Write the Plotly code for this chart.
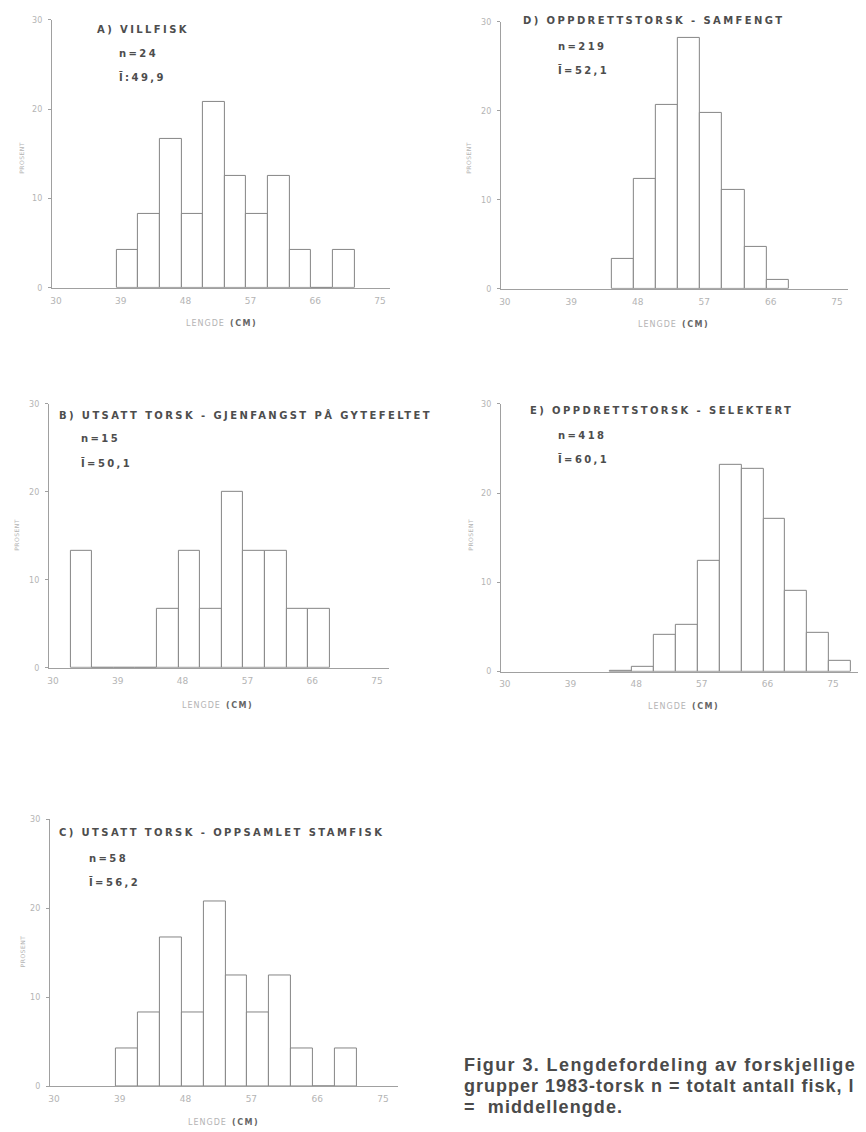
import plotly.graph_objects as go

# page body has an 8px default margin; the figure is sized/offset to fit the 866x1132 window
OFF = 8
W, H = 866 - OFF, 1132 - OFF

# ---------------- data ----------------
x_ticks = [30, 39, 48, 57, 66, 75]
y_ticks = [0, 10, 20, 30]

A_bins = [39, 42, 45, 48, 51, 54, 57, 60, 63, 66, 69]
A_pct = [4.2, 8.3, 16.7, 8.3, 20.8, 12.5, 8.3, 12.5, 4.2, 0, 4.2]

B_bins = [33, 36, 39, 42, 45, 48, 51, 54, 57, 60, 63, 66]
B_pct = [13.3, 0, 0, 0, 6.7, 13.3, 6.7, 20.0, 13.3, 13.3, 6.7, 6.7]

C_bins = [39, 42, 45, 48, 51, 54, 57, 60, 63, 66, 69]
C_pct = [4.2, 8.3, 16.7, 8.3, 20.8, 12.5, 8.3, 12.5, 4.2, 0, 4.2]

D_bins = [45, 48, 51, 54, 57, 60, 63, 66]
D_pct = [3.3, 12.4, 20.7, 28.2, 19.8, 11.1, 4.7, 1.0]

E_bins = [45, 48, 51, 54, 57, 60, 63, 66, 69, 72, 75]
E_pct = [0.15, 0.5, 4.1, 5.2, 12.4, 23.2, 22.7, 17.1, 9.1, 4.3, 1.2]

titles = {
    "A": "A) VILLFISK",
    "B": "B) UTSATT TORSK - GJENFANGST PÅ GYTEFELTET",
    "C": "C) UTSATT TORSK - OPPSAMLET STAMFISK",
    "D": "D) OPPDRETTSTORSK - SAMFENGT",
    "E": "E) OPPDRETTSTORSK - SELEKTERT",
}
n_text = {"A": "n=24", "B": "n=15", "C": "n=58", "D": "n=219", "E": "n=418"}
l_text = {"A": "Ī:49,9", "B": "Ī=50,1", "C": "Ī=56,2", "D": "Ī=52,1", "E": "Ī=60,1"}

caption_lines = ["Figur 3. Lengdefordeling av forskjellige",
                 "grupper 1983-torsk n = totalt antall fisk, l",
                 "=  middellengde."]

# ---------------- layout geometry (window pixels) ----------------
geom = {
    "A": dict(x0=50, ppc=7.22, xmax=77.0, y0=286, y30=16,
              title=(93, 26), n=(115, 50), l=(115, 74), xt=(220, 322), yt=(20, 155)),
    "D": dict(x0=500, ppc=7.40, xmax=77.0, y0=287, y30=18,
              title=(520, 17), n=(555, 43), l=(555, 66), xt=(673, 323), yt=(468, 155)),
    "B": dict(x0=47, ppc=7.22, xmax=77.2, y0=669, y30=403,
              title=(55, 414), n=(77, 438), l=(77, 463), xt=(216, 707), yt=(15, 535)),
    "E": dict(x0=500, ppc=7.31, xmax=79.0, y0=673, y30=403,
              title=(527, 410), n=(555, 435), l=(555, 459), xt=(683, 708), yt=(470, 535)),
    "C": dict(x0=48, ppc=7.33, xmax=77.6, y0=1091, y30=822,
              title=(55, 835), n=(85, 861), l=(85, 885), xt=(222, 1127), yt=(20, 955)),
}
data = {"A": (A_bins, A_pct), "B": (B_bins, B_pct), "C": (C_bins, C_pct),
        "D": (D_bins, D_pct), "E": (E_bins, E_pct)}

fig = go.Figure()
annotations = []
layout_axes = {}

BAR_LINE = "#858585"
AXIS_COL = "#a0a0a0"
TXT_DARK = "#4d4d4d"
TXT_LIGHT = "#b4b4b4"
FONT = "DejaVu Sans"


def px(x):
    return (x - OFF) / W


def py(y):
    return 1 - (y - OFF) / H


def spaced(s, ls):
    return f'<span style="letter-spacing:{ls}px">{s}</span>'


for i, key in enumerate(["A", "D", "B", "E", "C"], start=1):
    g = geom[key]
    bins, pct = data[key]
    xa = "x" if i == 1 else f"x{i}"
    ya = "y" if i == 1 else f"y{i}"
    fig.add_trace(go.Bar(
        x=[b + 1.5 for b in bins], y=pct, width=3,
        marker=dict(color="white", line=dict(color=BAR_LINE, width=1)),
        xaxis=xa, yaxis=ya, showlegend=False, hoverinfo="skip"))

    x1 = min(g["x0"] + (g["xmax"] - 30) * g["ppc"], 866)
    layout_axes["xaxis" if i == 1 else f"xaxis{i}"] = dict(
        domain=[px(g["x0"]), px(x1)], range=[30, 30 + (x1 - g["x0"]) / g["ppc"]], anchor=ya,
        tickvals=x_ticks, ticktext=[str(t) for t in x_ticks],
        showline=True, linecolor=AXIS_COL, linewidth=1, showgrid=False, zeroline=False,
        ticks="", ticklabelstandoff=4, ticklabelshift=4,
        tickfont=dict(family=FONT, size=9, color=TXT_LIGHT), fixedrange=True)
    layout_axes["yaxis" if i == 1 else f"yaxis{i}"] = dict(
        domain=[py(g["y0"]), py(g["y30"])], range=[0, 30], anchor=xa,
        tickvals=y_ticks, showline=True, linecolor=AXIS_COL, linewidth=1,
        showgrid=False, zeroline=False, ticks="outside", ticklen=3, tickcolor=AXIS_COL,
        ticklabelstandoff=4,
        tickfont=dict(family=FONT, size=8, color=TXT_LIGHT), fixedrange=True)

    for (tx, ty), txt in [(g["title"], titles[key]), (g["n"], n_text[key]), (g["l"], l_text[key])]:
        annotations.append(dict(x=px(tx), y=py(ty), xref="paper", yref="paper",
                                xanchor="left", yanchor="middle", showarrow=False,
                                text=spaced(f"<b>{txt}</b>", 2.4),
                                font=dict(family=FONT, size=10, color=TXT_DARK)))
    xtx, xty = g["xt"]
    annotations.append(dict(x=px(xtx), y=py(xty), xref="paper", yref="paper",
                            xanchor="center", yanchor="middle", showarrow=False,
                            text=spaced("LENGDE", 1) + "  " + spaced('<b><span style="fill:#666">(CM)</span></b>', 1.5),
                            font=dict(family=FONT, size=8, color=TXT_LIGHT)))
    ytx, yty = g["yt"]
    annotations.append(dict(x=px(ytx), y=py(yty), xref="paper", yref="paper",
                            xanchor="center", yanchor="middle", showarrow=False,
                            textangle=-90, text=spaced("PROSENT", 0.5),
                            font=dict(family=FONT, size=6, color=TXT_LIGHT)))

cap_y = [1069, 1091, 1112]
cap_ls = [1.4, 1.0, 1.1]
for line, yy, ls in zip(caption_lines, cap_y, cap_ls):
    annotations.append(dict(x=px(461), y=py(yy), xref="paper", yref="paper",
                            xanchor="left", yanchor="middle", align="left", showarrow=False,
                            text=spaced(f"<b>{line}</b>", ls),
                            font=dict(family="Liberation Sans", size=18, color="#4a4a4a")))

fig.update_layout(
    width=W, height=H, margin=dict(l=0, r=0, t=0, b=0),
    paper_bgcolor="white", plot_bgcolor="white",
    bargap=0, annotations=annotations, **layout_axes)

fig.write_html("out.html")
